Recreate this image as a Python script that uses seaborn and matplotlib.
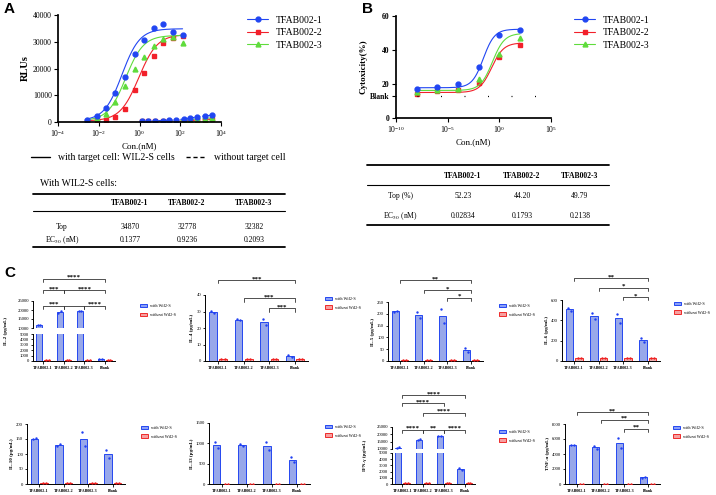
import numpy as np
import pandas as pd
import matplotlib
matplotlib.use('Agg')
import matplotlib.pyplot as plt
import seaborn as sns
from matplotlib.lines import Line2D
from matplotlib.patches import Patch
from matplotlib.ticker import NullLocator

# ---------------- panel A : RLUs vs Con.(nM) ----------------
names = ['TFAB002-1', 'TFAB002-2', 'TFAB002-3']
conc_a = [0.0028, 0.0081, 0.023, 0.066, 0.19, 0.59, 1.7, 5.0, 15, 43, 130]
rlu_1 = [870, 2100, 5200, 10800, 16700, 25300, 30800, 35100, 36800, 33600, 32500]
rlu_2 = [500, 600, 870, 1900, 5000, 11800, 18300, 24700, 29700, 31500, 32000]
rlu_3 = [700, 1400, 3000, 7500, 13300, 19700, 24300, 28300, 31000, 31600, 29700]
# without target cell
conc_a_neg = [1.26, 2.75, 6.0, 13.5, 29.5, 65, 145, 316, 690, 1550, 3630]
rlu_1_neg = [500, 500, 500, 550, 650, 800, 1100, 1500, 1900, 2200, 2600]
rlu_2_neg = [250, 250, 250, 300, 300, 350, 450, 550, 700, 850, 1050]
rlu_3_neg = [350, 350, 350, 400, 450, 550, 700, 900, 1100, 1300, 1500]
# fit results (table)
top_a = [34870, 32778, 32382]
ec50_a = [0.1377, 0.9236, 0.2093]
bottom_a = [500, 400, 450]
hill_a = [1.0, 0.95, 1.0]

# ---------------- panel B : cytotoxicity ----------------
conc_b = [1e-8, 1e-6, 1e-4, 1e-2, 1, 100]
cyto_1 = [17.2, 18.1, 19.9, 29.8, 48.7, 51.7]
cyto_2 = [14.0, 15.6, 16.4, 20.3, 35.9, 43.1]
cyto_3 = [15.5, 16.2, 17.0, 23.0, 37.8, 47.2]
top_b = [52.23, 44.20, 49.79]
ec50_b = [0.02834, 0.1793, 0.2138]
bottom_b = [17.8, 15.0, 16.2]
hill_b = [0.8, 0.75, 0.75]
blank_b = 12.7

top_a_txt = ['34870', '32778', '32382']
ec50_a_txt = ['0.1377', '0.9236', '0.2093']
top_b_txt = ['52.23', '44.20', '49.79']
ec50_b_txt = ['0.02834', '0.1793', '0.2138']

# ---------------- panel C : cytokines (two replicates) ----------------
groups = ['TFAB002-1', 'TFAB002-2', 'TFAB002-3', 'Blank']
conds = ['with WiI2-S', 'without WiI2-S']
il2_with = [[11400, 11900], [18600, 19300], [19500, 19700], [300, 450]]
il2_without = [[150, 150], [150, 150], [150, 150], [150, 150]]
il4_with = [[30.5, 28.8], [25.2, 24.8], [25.4, 21.7], [3.6, 2.2]]
il4_without = [[1.3, 1.3], [1.3, 1.3], [1.3, 1.3], [1.3, 1.3]]
il5_with = [[208, 212], [208, 182], [222, 162], [55, 40]]
il5_without = [[3, 3], [3, 3], [3, 3], [3, 3]]
il6_with = [[525, 490], [470, 415], [465, 375], [225, 190]]
il6_without = [[25, 28], [25, 28], [25, 30], [25, 25]]
il10_with = [[150, 153], [128, 135], [175, 128], [115, 88]]
il10_without = [[2, 2], [2, 2], [2, 2], [2, 2]]
il13_with = [[1045, 890], [980, 940], [1030, 827], [665, 535]]
il13_without = [[10, 10], [10, 10], [10, 10], [10, 10]]
ifng_with = [[10800, 11100], [16300, 16600], [18600, 18700], [2660, 2230]]
ifng_without = [[120, 120], [120, 120], [120, 120], [120, 120]]
tnfa_with = [[5200, 5250], [5100, 4700], [6130, 4750], [850, 1000]]
tnfa_without = [[60, 60], [60, 60], [60, 60], [60, 60]]

sns.set_theme(style='ticks', rc={'axes.edgecolor': 'black', 'text.color': 'black',
                                 'axes.labelcolor': 'black', 'xtick.color': 'black',
                                 'ytick.color': 'black'})
plt.rcParams['font.family'] = ['Liberation Serif', 'DejaVu Serif']
plt.rcParams['mathtext.fontset'] = 'stix'

W, H = 716.0, 495.0
fig = plt.figure(figsize=(7.16, 4.95), dpi=100)


def rect(x0, y0, x1, y1):
    return [x0 / W, 1 - y1 / H, (x1 - x0) / W, (y1 - y0) / H]


def fx(x):
    return x / W


def fy(y):
    return 1 - y / H


def fourpl(x, bottom, top, ec50, hill):
    return bottom + (top - bottom) / (1 + (ec50 / x) ** hill)


cols = ['#2146f2', '#f2202a', '#5fdc3c']
marks = ['o', 's', '^']

# ---- A ----
axA = fig.add_axes(rect(58, 15, 221, 122))
xs = np.logspace(np.log10(conc_a[0]), np.log10(conc_a[-1]), 200)
for k in [1, 2, 0]:
    ys = [rlu_1, rlu_2, rlu_3][k]
    axA.plot(xs, fourpl(xs, bottom_a[k], top_a[k], ec50_a[k], hill_a[k]), color=cols[k], lw=0.8)
    axA.plot(conc_a, ys, ls='none', marker=marks[k], color=cols[k], ms=3.5)
for k in [1, 2, 0]:
    ys = [rlu_1_neg, rlu_2_neg, rlu_3_neg][k]
    axA.plot(conc_a_neg, ys, ls=(0, (3, 2)), lw=0.8, marker=marks[k], color=cols[k], ms=3.5)
axA.set_xscale('log')
axA.set_xlim(1e-4, 1e4)
axA.set_xticks([1e-4, 1e-2, 1, 1e2, 1e4])
axA.xaxis.set_minor_locator(NullLocator())
axA.set_ylim(0, 40000)
axA.set_yticks([0, 10000, 20000, 30000, 40000])
sns.despine(ax=axA)
axA.tick_params(labelsize=5.5, length=3, width=0.8, pad=1.5)
axA.set_ylabel('RLUs', fontsize=7.5, fontweight='bold', labelpad=2)
axA.set_xlabel('Con.(nM)', fontsize=6.5, labelpad=2)
hA = [Line2D([], [], color=cols[k], marker=marks[k], ms=3.5, lw=0.8, label=names[k]) for k in range(3)]
fig.legend(handles=hA, loc='upper left', bbox_to_anchor=(fx(243), fy(12)), fontsize=7,
           frameon=False, handlelength=2.2, labelspacing=0.35, borderaxespad=0)
fig.legend(handles=[Line2D([], [], color='black', lw=1, label='with target cell: WIL2-S cells'),
                    Line2D([], [], color='black', lw=1, ls=(0, (3, 2)), label='without target cell')],
           loc='center', bbox_to_anchor=(fx(158), fy(158)), ncol=2, fontsize=7, frameon=False,
           handlelength=2.0, columnspacing=1.2, borderaxespad=0)

# table A
fig.text(fx(40), fy(184), 'With WIL2-S cells:', fontsize=7, va='center')
for y, lw in [(194, 1.3), (211, 0.8), (247, 1.3)]:
    fig.add_artist(Line2D([fx(33), fx(285)], [fy(y), fy(y)], color='black', lw=lw))
col_a = [130, 187, 254]
for cx, n, t, e in zip(col_a, names, top_a_txt, ec50_a_txt):
    fig.text(fx(cx), fy(203), n, fontsize=5.5, fontweight='bold', ha='center', va='center')
    fig.text(fx(cx), fy(227), t, fontsize=5.5, ha='center', va='center')
    fig.text(fx(cx), fy(240), e, fontsize=5.5, ha='center', va='center')
fig.text(fx(62), fy(227), 'Top', fontsize=5.5, ha='center', va='center')
fig.text(fx(62), fy(240), 'EC$_{50}$ (nM)', fontsize=5.5, ha='center', va='center')

# ---- B ----
axB = fig.add_axes(rect(396, 16, 551, 118))
xs = np.logspace(-8, 2, 200)
for k in [1, 2, 0]:
    ys = [cyto_1, cyto_2, cyto_3][k]
    axB.plot(xs, fourpl(xs, bottom_b[k], top_b[k], ec50_b[k], hill_b[k]), color=cols[k], lw=0.8)
    axB.plot(conc_b, ys, ls='none', marker=marks[k], color=cols[k], ms=3.5)
axB.plot([1e-8, 1e5], [blank_b, blank_b], color='black', lw=0.9, ls=(0, (0.8, 18)))
axB.set_xscale('log')
axB.set_xlim(1e-10, 1e5)
axB.set_xticks([1e-10, 1e-5, 1, 1e5])
axB.xaxis.set_minor_locator(NullLocator())
axB.set_ylim(0, 60)
axB.set_yticks([0, blank_b, 20, 40, 60])
axB.set_yticklabels(['0', 'Blank', '20', '40', '60'], fontweight='bold')
sns.despine(ax=axB)
axB.tick_params(labelsize=5.5, length=3, width=0.8, pad=1.5)
axB.set_ylabel('Cytoxicity(%)', fontsize=6.5, fontweight='bold', labelpad=2)
axB.set_xlabel('Con.(nM)', fontsize=6.5, labelpad=2)
fig.legend(handles=hA, loc='upper left', bbox_to_anchor=(fx(570), fy(12)), fontsize=7,
           frameon=False, handlelength=2.2, labelspacing=0.35, borderaxespad=0)

# table B
for y, lw in [(165, 1.3), (185, 0.8), (225, 1.3)]:
    fig.add_artist(Line2D([fx(367), fx(609)], [fy(y), fy(y)], color='black', lw=lw))
col_b = [463, 522, 580]
for cx, n, t, e in zip(col_b, names, top_b_txt, ec50_b_txt):
    fig.text(fx(cx), fy(176), n, fontsize=5.5, fontweight='bold', ha='center', va='center')
    fig.text(fx(cx), fy(196), t, fontsize=5.5, ha='center', va='center')
    fig.text(fx(cx), fy(216), e, fontsize=5.5, ha='center', va='center')
fig.text(fx(400), fy(196), 'Top (%)', fontsize=5.5, ha='center', va='center')
fig.text(fx(400), fy(216), 'EC$_{50}$ (nM)', fontsize=5.5, ha='center', va='center')

# ---- C ----
fills = ['#8a9ff8', '#f6a0a0']
edges = ['#2447f0', '#ee2a2a']
dots = ['#1f3ff2', '#f02020']


def long_df(with_vals, without_vals):
    rows = []
    for g, wv, nv in zip(groups, with_vals, without_vals):
        rows += [(g, conds[0], v) for v in wv]
        rows += [(g, conds[1], v) for v in nv]
    return pd.DataFrame(rows, columns=['group', 'cond', 'value'])


def draw_bars(ax, df):
    sns.barplot(data=df, x='group', y='value', hue='cond', order=groups, hue_order=conds,
                palette=fills, errorbar=None, width=0.8, gap=0.25, linewidth=0.7,
                legend=False, ax=ax)
    for cont, ec in zip(ax.containers, edges):
        for p in cont:
            p.set_edgecolor(ec)
    for k, cond in enumerate(conds):
        sub = df[df['cond'] == cond]
        for gi, g in enumerate(groups):
            vals = sub.loc[sub['group'] == g, 'value'].to_numpy()
            xp = gi + (k - 0.5) * 0.4 + np.array([-0.06, 0.06])
            ax.scatter(xp, vals, s=3, color=dots[k], linewidths=0, zorder=3)


def style_c(ax, ylim, yticks):
    ax.set_ylim(ylim)
    ax.set_yticks(yticks)
    ax.set_xlim(-0.5, 3.5)
    ax.set_xlabel('')
    ax.set_ylabel('')
    sns.despine(ax=ax)
    ax.set_facecolor('none')
    ax.tick_params(axis='y', labelsize=3.4, length=1.8, width=0.6, pad=1)
    ax.tick_params(axis='x', labelsize=2.9, length=1.8, width=0.6, pad=1.5)
    for sp in ax.spines.values():
        sp.set_linewidth(0.7)
    for lbl in ax.get_xticklabels():
        lbl.set_fontweight('bold')


def cyto_panel(box, with_vals, without_vals, ylabel, ylim, yticks, brackets, leg_xy,
               split=None, upper_lim=None, upper_ticks=None):
    x0, y0, x1, y1 = box
    df = long_df(with_vals, without_vals)
    if split is None:
        ax = fig.add_axes(rect(x0, y0, x1, y1))
        draw_bars(ax, df)
        style_c(ax, ylim, yticks)
        ax.set_ylabel(ylabel, fontsize=3.6, fontweight='bold', labelpad=1.5)
    else:
        lo_top, hi_bot = split
        lo = fig.add_axes(rect(x0, lo_top, x1, y1))
        hi = fig.add_axes(rect(x0, y0, x1, hi_bot))
        draw_bars(lo, df)
        draw_bars(hi, df)
        style_c(lo, ylim, yticks)
        style_c(hi, upper_lim, upper_ticks)
        hi.spines['bottom'].set_visible(False)
        hi.tick_params(axis='x', bottom=False, labelbottom=False)
        lo.set_ylabel(ylabel, fontsize=3.6, fontweight='bold')
        lo.yaxis.set_label_coords(-0.3, (y1 - (y0 + y1) / 2) / (y1 - lo_top))
    ov = fig.add_axes(rect(x0, y0, x1, y1))
    ov.set_xlim(-0.5, 3.5)
    ov.set_ylim(0, 1)
    ov.axis('off')
    for i, j, yb, txt in brackets:
        ov.plot([i, i, j, j], [yb - 0.05, yb, yb, yb - 0.05], color='#333333', lw=0.6, clip_on=False)
        ov.text((i + j) / 2, yb - 0.02, txt, ha='center', va='bottom', fontsize=5,
                fontweight='bold', clip_on=False)
    hC = [Patch(facecolor=fills[k], edgecolor=edges[k], lw=0.7, label=conds[k]) for k in range(2)]
    ov.legend(handles=hC, loc='upper left', bbox_to_anchor=leg_xy, fontsize=3.1, frameon=False,
              handlelength=1.6, handleheight=0.9, labelspacing=1.0, borderaxespad=0,
              handletextpad=0.7)


cyto_panel((33, 301, 115, 361), il2_with, il2_without, 'IL-2 (pg/mL)',
           (0, 5000), [0, 1000, 2000, 3000, 4000, 5000],
           [(0, 3, 1.37, '****'), (0, 1, 1.18, '***'), (1, 3, 1.18, '****'),
            (0, 1, 0.92, '***'), (1, 2, 0.92, ''), (2, 3, 0.92, '****')],
           (1.28, 0.98), split=(334, 328), upper_lim=(10000, 25000),
           upper_ticks=[10000, 15000, 20000, 25000])
cyto_panel((205, 295, 308, 361), il4_with, il4_without, 'IL-4 (pg/mL)',
           (0, 40), [0, 10, 20, 30, 40],
           [(0, 3, 1.23, '***'), (1, 3, 0.95, '***'), (2, 3, 0.80, '***')], (1.15, 1.0))
cyto_panel((388, 302, 483, 361), il5_with, il5_without, 'IL-5 (pg/mL)',
           (0, 250), [0, 50, 100, 150, 200, 250],
           [(0, 3, 1.37, '**'), (1, 3, 1.20, '*'), (2, 3, 1.07, '*')], (1.15, 1.0))
cyto_panel((562, 300, 660, 361), il6_with, il6_without, 'IL-6 (pg/mL)',
           (0, 600), [0, 200, 400, 600],
           [(0, 3, 1.36, '**'), (1, 3, 1.20, '*'), (2, 3, 1.05, '*')], (1.13, 1.0))
cyto_panel((27, 424, 125, 484), il10_with, il10_without, 'IL-10 (pg/mL)',
           (0, 200), [0, 50, 100, 150, 200], [], (1.15, 1.0))
cyto_panel((209, 423, 310, 484), il13_with, il13_without, 'IL-13 (pg/mL)',
           (0, 1500), [0, 500, 1000, 1500], [], (1.13, 1.0))
cyto_panel((392, 427, 475, 484), ifng_with, ifng_without, 'IFN-γ (pg/mL)',
           (0, 5000), [0, 1000, 2000, 3000, 4000, 5000],
           [(0, 3, 1.56, '****'), (0, 2, 1.42, '****'), (1, 3, 1.25, '****'),
            (0, 1, 0.95, '****'), (1, 2, 0.95, '**'), (2, 3, 0.95, '****')],
           (1.27, 0.98), split=(453, 449), upper_lim=(10000, 25000),
           upper_ticks=[10000, 15000, 20000, 25000])
cyto_panel((565, 424, 660, 484), tnfa_with, tnfa_without, 'TNF-α (pg/mL)',
           (0, 8000), [0, 2000, 4000, 6000, 8000],
           [(0, 3, 1.2, '**'), (1, 3, 1.07, '**'), (2, 3, 0.92, '**')], (1.12, 1.0))

for lab, x, y in [('A', 4, 2), ('B', 362, 2), ('C', 4, 266)]:
    fig.text(fx(x), fy(y), lab, fontsize=11, fontweight='bold', family='Liberation Sans',
             ha='left', va='top')

fig.savefig('out.png', dpi=100)
